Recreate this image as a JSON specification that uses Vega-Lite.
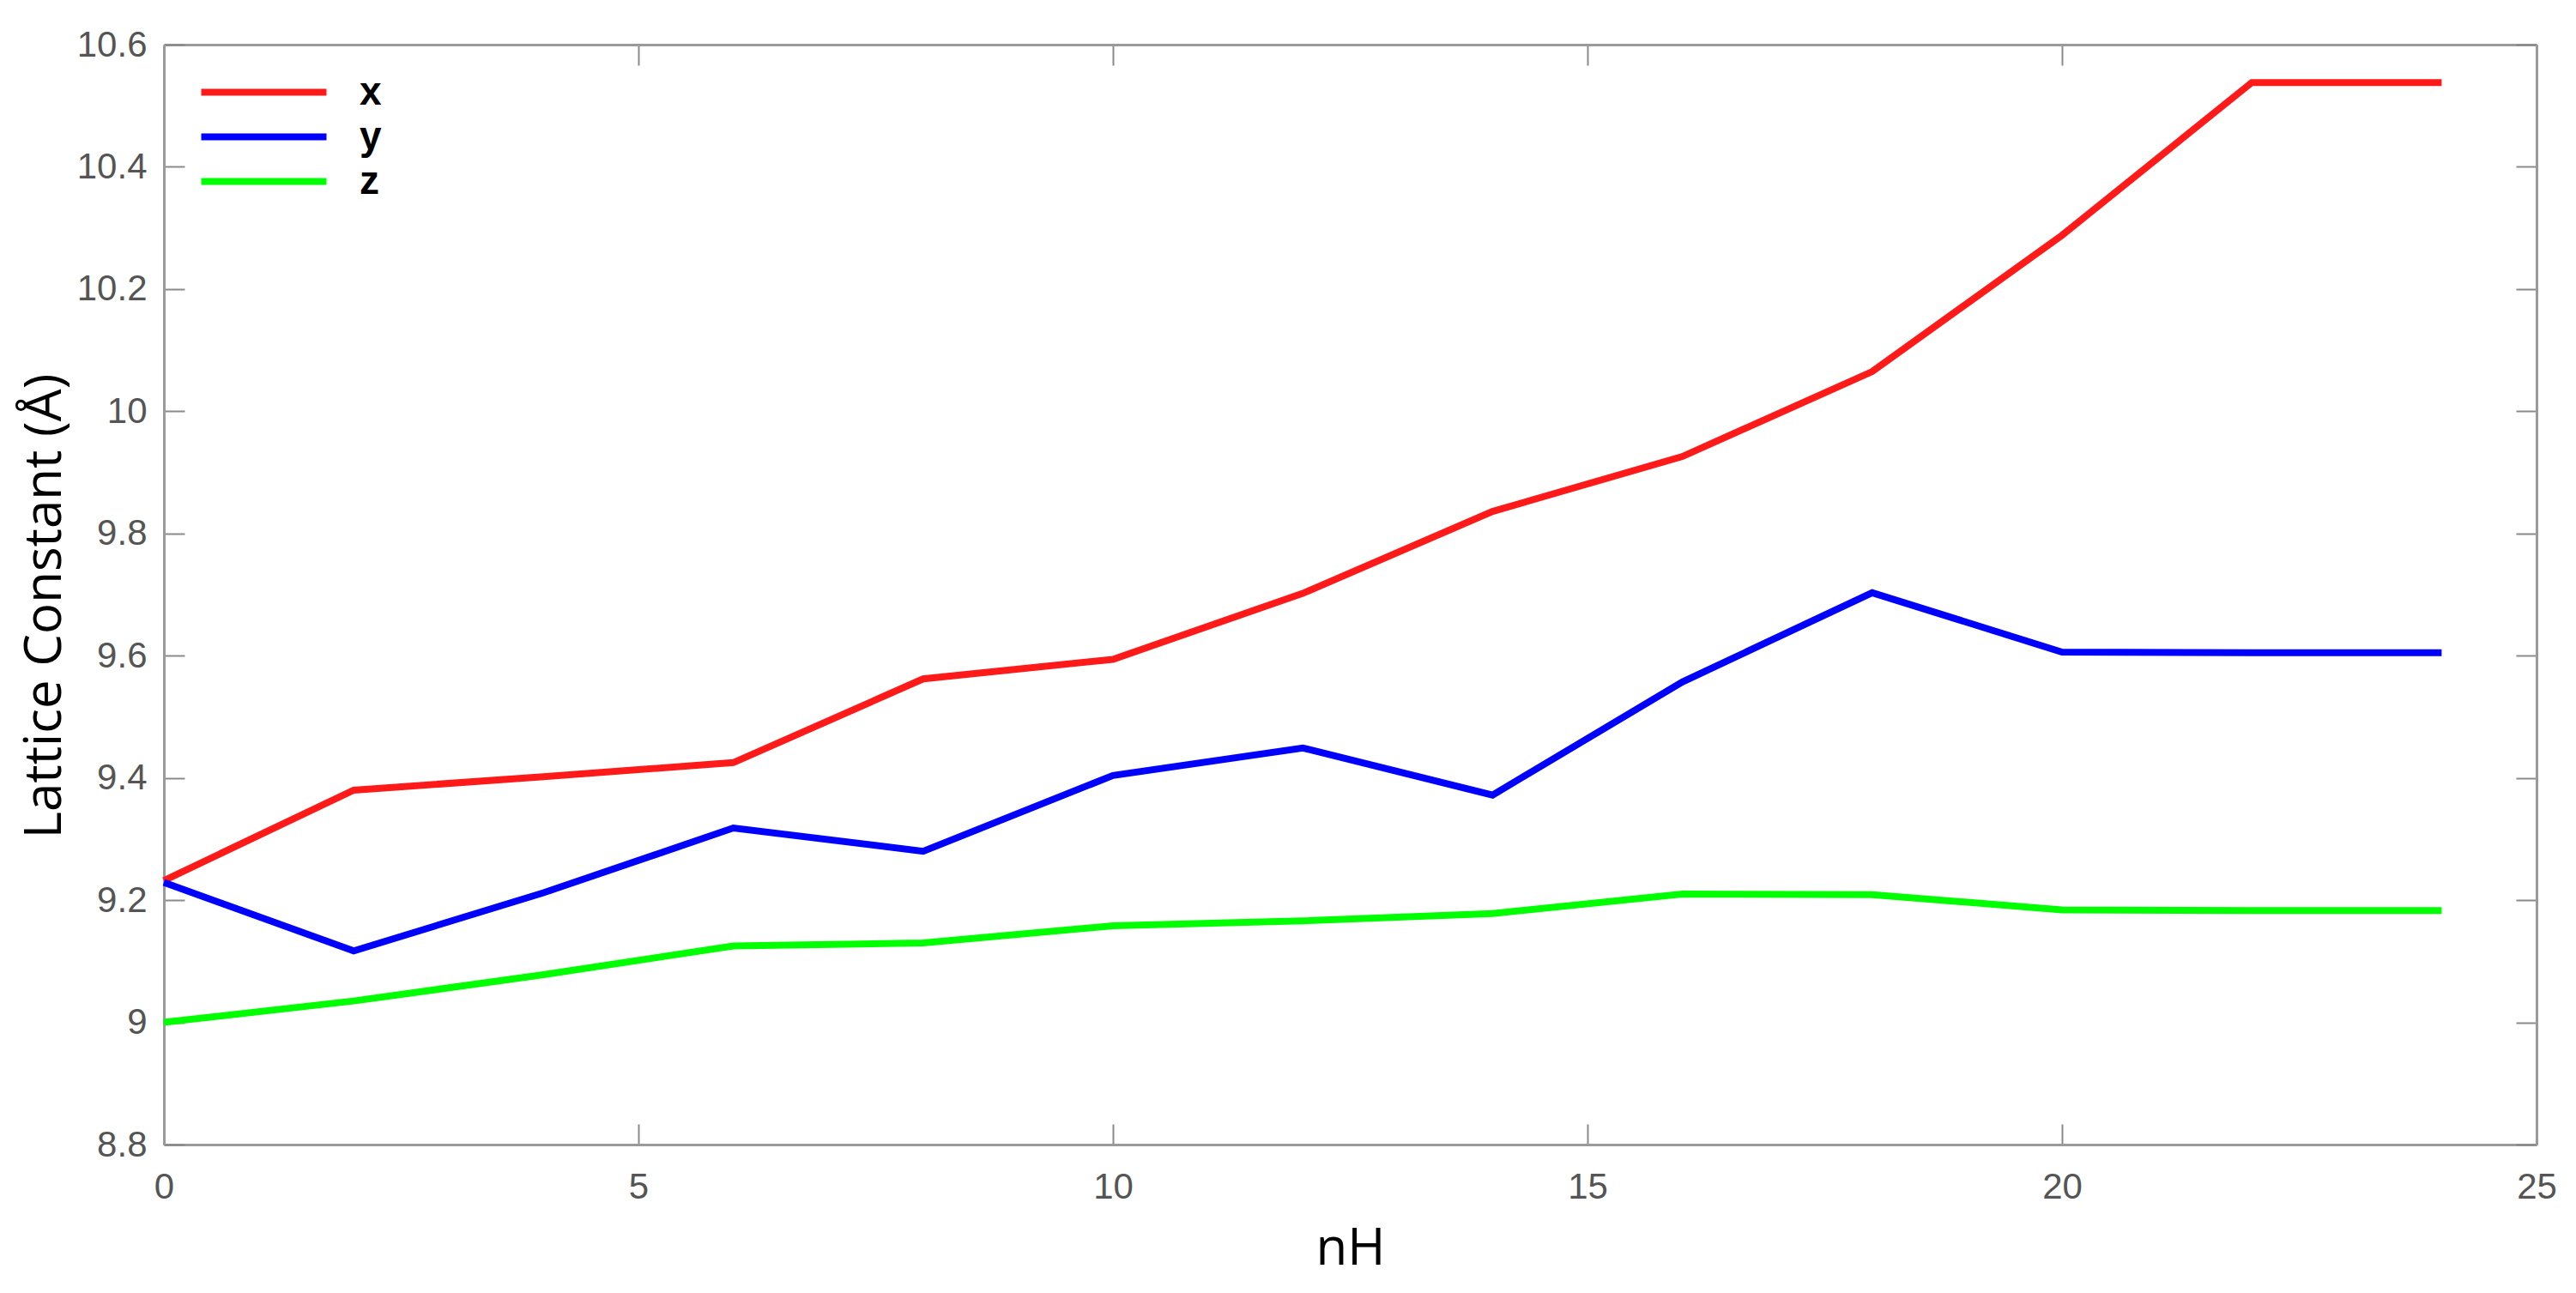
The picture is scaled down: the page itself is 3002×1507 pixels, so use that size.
{
  "$schema": "https://vega.github.io/schema/vega-lite/v6.json",
  "width": 2765,
  "height": 1282,
  "autosize": {"type": "none"},
  "padding": {"left": 191, "top": 52, "right": 46, "bottom": 173},
  "background": "white",
  "config": {
    "view": {"stroke": null},
    "axis": {
      "grid": false,
      "domainColor": "#9a9a9a",
      "domainWidth": 3,
      "tickColor": "#8a8a8a",
      "tickWidth": 2,
      "tickSize": -24,
      "labelFont": "Liberation Sans",
      "labelFontSize": 42,
      "labelColor": "#555555",
      "titleFont": "Open Sans",
      "titleFontSize": 60,
      "titleFontWeight": "normal",
      "titleColor": "#000000"
    }
  },
  "data": {
    "values": [
      {"nH": 0, "series": "x", "value": 9.232},
      {"nH": 2, "series": "x", "value": 9.380},
      {"nH": 4, "series": "x", "value": 9.402},
      {"nH": 6, "series": "x", "value": 9.425},
      {"nH": 8, "series": "x", "value": 9.562},
      {"nH": 10, "series": "x", "value": 9.594},
      {"nH": 12, "series": "x", "value": 9.702},
      {"nH": 14, "series": "x", "value": 9.836},
      {"nH": 16, "series": "x", "value": 9.926},
      {"nH": 18, "series": "x", "value": 10.065},
      {"nH": 20, "series": "x", "value": 10.288},
      {"nH": 22, "series": "x", "value": 10.538},
      {"nH": 24, "series": "x", "value": 10.538},
      {"nH": 0, "series": "y", "value": 9.229},
      {"nH": 2, "series": "y", "value": 9.117},
      {"nH": 4, "series": "y", "value": 9.212},
      {"nH": 6, "series": "y", "value": 9.318},
      {"nH": 8, "series": "y", "value": 9.280},
      {"nH": 10, "series": "y", "value": 9.404},
      {"nH": 12, "series": "y", "value": 9.449},
      {"nH": 14, "series": "y", "value": 9.372},
      {"nH": 16, "series": "y", "value": 9.557},
      {"nH": 18, "series": "y", "value": 9.703},
      {"nH": 20, "series": "y", "value": 9.606},
      {"nH": 22, "series": "y", "value": 9.605},
      {"nH": 24, "series": "y", "value": 9.605},
      {"nH": 0, "series": "z", "value": 9.000},
      {"nH": 2, "series": "z", "value": 9.035},
      {"nH": 4, "series": "z", "value": 9.078},
      {"nH": 6, "series": "z", "value": 9.125},
      {"nH": 8, "series": "z", "value": 9.130},
      {"nH": 10, "series": "z", "value": 9.158},
      {"nH": 12, "series": "z", "value": 9.166},
      {"nH": 14, "series": "z", "value": 9.178},
      {"nH": 16, "series": "z", "value": 9.210},
      {"nH": 18, "series": "z", "value": 9.209},
      {"nH": 20, "series": "z", "value": 9.184},
      {"nH": 22, "series": "z", "value": 9.183},
      {"nH": 24, "series": "z", "value": 9.183}
    ]
  },
  "resolve": {"axis": {"x": "independent", "y": "independent"}},
  "layer": [
    {
      "mark": {"type": "line", "strokeWidth": 8, "strokeJoin": "miter", "strokeCap": "butt"},
      "encoding": {
        "x": {
          "field": "nH", "type": "quantitative",
          "scale": {"domain": [0, 25], "nice": false, "zero": false},
          "axis": {"title": "nH", "values": [0, 5, 10, 15, 20, 25], "labelPadding": 53, "titlePadding": 22, "labelFlush": false}
        },
        "y": {
          "field": "value", "type": "quantitative",
          "scale": {"domain": [8.8, 10.6], "nice": false, "zero": false},
          "axis": {"title": "Lattice Constant (Å)", "values": [8.8, 9, 9.2, 9.4, 9.6, 9.8, 10, 10.2, 10.4, 10.6], "format": "~g", "labelPadding": 44, "titlePadding": 6, "titleY": 654, "labelFlush": false}
        },
        "color": {
          "field": "series", "type": "nominal",
          "scale": {"domain": ["x", "y", "z"], "range": ["#ff1a1a", "#0000ff", "#00ff00"]},
          "legend": {
            "title": null,
            "orient": "none",
            "legendX": 88,
            "legendY": 27,
            "symbolType": "M-3,0H3",
            "symbolSize": 2368,
            "symbolStrokeWidth": 8,
            "labelFont": "Liberation Sans",
            "labelFontWeight": "bold",
            "labelFontSize": 46,
            "labelColor": "#000000",
            "labelOffset": 83,
            "rowPadding": 0
          }
        }
      }
    },
    {
      "mark": {"type": "line", "opacity": 0},
      "encoding": {
        "x": {
          "field": "nH", "type": "quantitative",
          "axis": {"orient": "top", "title": null, "labels": false, "values": [0, 5, 10, 15, 20, 25]}
        },
        "y": {
          "field": "value", "type": "quantitative",
          "axis": {"orient": "right", "title": null, "labels": false, "values": [8.8, 9, 9.2, 9.4, 9.6, 9.8, 10, 10.2, 10.4, 10.6]}
        },
        "detail": {"field": "series", "type": "nominal"}
      }
    }
  ]
}
